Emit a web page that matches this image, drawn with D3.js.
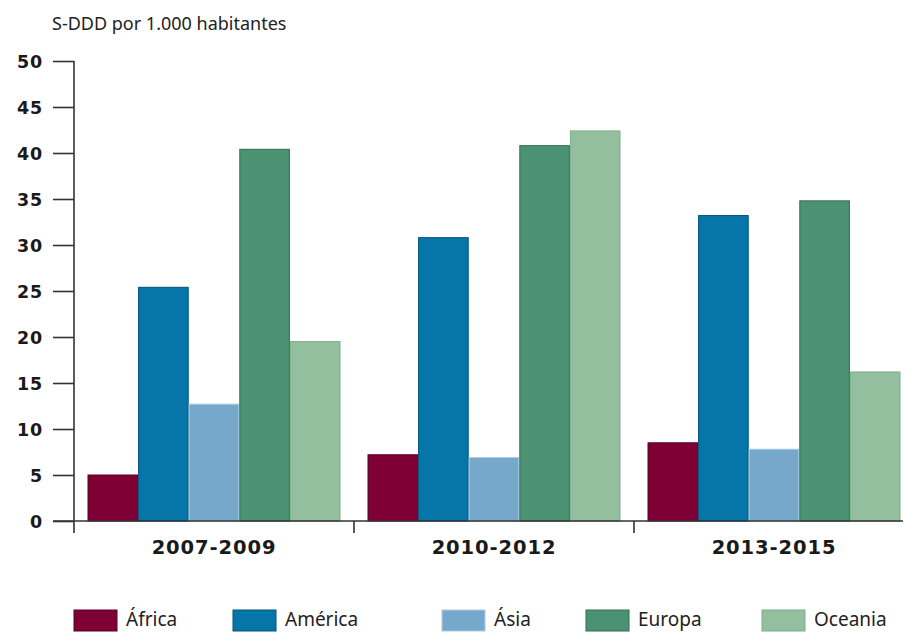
<!DOCTYPE html>
<html>
<head>
<meta charset="utf-8">
<script src="https://cdn.jsdelivr.net/npm/d3@7"></script>
<style>
  html, body { margin: 0; padding: 0; background: #fff; }
  svg { display: block; }
</style>
</head>
<body>
<svg id="chart" width="906" height="633"></svg>
<script>
// Periods shown along the x axis
const periods = ["2007-2009", "2010-2012", "2013-2015"];
// Regions (one bar per region in each period)
const regions = ["África", "América", "Ásia", "Europa", "Oceania"];
// S-DDD per 1,000 inhabitants, one array per region, in period order
const africa  = [5.0, 7.2, 8.5];
const america = [25.4, 30.8, 33.2];
const asia    = [12.7, 6.9, 7.8];
const europa  = [40.4, 40.8, 34.8];
const oceania = [19.5, 42.4, 16.2];
const seriesValues = [africa, america, asia, europa, oceania];
// Y axis ticks
const yTicks = [0, 5, 10, 15, 20, 25, 30, 35, 40, 45, 50];
const yTitle = "S-DDD por 1.000 habitantes";

const fills   = ["#7e0035", "#0675a7", "#76a8cc", "#4a9271", "#94bf9f"];
const strokes = ["#5a0025", "#04527a", "#a9cbe3", "#2f6e50", "#7fae8b"];

const svg = d3.select("#chart");
const axisColor = "#333";

const y = d3.scaleLinear().domain([0, 50]).range([521, 61]);
const x0 = d3.scaleBand().domain(periods).range([74, 914]).padding(0);
const x1 = d3.scaleBand().domain(regions).range([13.5, x0.bandwidth() - 13.5]).padding(0);
const color = d3.scaleOrdinal().domain(regions).range(fills);
const edge = d3.scaleOrdinal().domain(regions).range(strokes);

// Axis title
svg.append("text")
  .attr("x", 52).attr("y", 30)
  .attr("font-family", "'Noto Sans', 'Open Sans', sans-serif")
  .attr("font-size", 18)
  .attr("fill", "#222")
  .text(yTitle);

// Bars
const rows = periods.map((p, i) => ({
  period: p,
  values: regions.map((r, j) => ({ region: r, value: seriesValues[j][i] }))
}));

const groups = svg.append("g").selectAll("g")
  .data(rows).join("g")
  .attr("transform", d => `translate(${x0(d.period)},0)`);

groups.selectAll("rect")
  .data(d => d.values).join("rect")
  .attr("x", d => x1(d.region) + 0.5)
  .attr("width", x1.bandwidth() - 1)
  .attr("y", d => y(d.value))
  .attr("height", d => y(0) - y(d.value))
  .attr("fill", d => color(d.region))
  .attr("stroke", d => edge(d.region))
  .attr("stroke-width", 1);

// Y axis
const yAxis = d3.axisLeft(y).tickValues(yTicks).tickSize(21).tickPadding(10);
const gy = svg.append("g").attr("transform", "translate(74,0)").call(yAxis);
gy.select(".domain").remove();
gy.selectAll(".tick line").attr("stroke", axisColor).attr("stroke-width", 1.6);
gy.selectAll(".tick text")
  .attr("font-family", "'DejaVu Sans', sans-serif")
  .attr("font-weight", "bold")
  .attr("font-size", 17.5)
  .attr("letter-spacing", 0.8)
  .attr("fill", "#1a1a1a")
  .attr("dy", "0.36em");
svg.append("line")
  .attr("x1", 74).attr("x2", 74)
  .attr("y1", y(50)).attr("y2", 533)
  .attr("stroke", axisColor).attr("stroke-width", 1.6);

// X axis baseline
svg.append("line")
  .attr("x1", 53).attr("x2", 903)
  .attr("y1", y(0)).attr("y2", y(0))
  .attr("stroke", axisColor).attr("stroke-width", 1.6);

// Group separators below the baseline
svg.append("g").selectAll("line")
  .data(periods.slice(1)).join("line")
  .attr("x1", d => x0(d)).attr("x2", d => x0(d))
  .attr("y1", y(0)).attr("y2", 533)
  .attr("stroke", axisColor).attr("stroke-width", 1.6);

// Period labels
svg.append("g").selectAll("text")
  .data(periods).join("text")
  .attr("x", d => x0(d) + x0.bandwidth() / 2)
  .attr("y", 554)
  .attr("text-anchor", "middle")
  .attr("font-family", "'DejaVu Sans', sans-serif")
  .attr("font-weight", "bold")
  .attr("font-size", 19.5)
  .attr("letter-spacing", 0.9)
  .attr("fill", "#1a1a1a")
  .text(d => d);

// Legend
const legendX = [74, 233, 442, 586, 762];
const legend = svg.append("g").selectAll("g")
  .data(regions).join("g")
  .attr("transform", (d, i) => `translate(${legendX[i]},610)`);
legend.append("rect")
  .attr("width", 43).attr("height", 21)
  .attr("fill", d => color(d))
  .attr("stroke", d => edge(d))
  .attr("stroke-width", 1);
legend.append("text")
  .attr("x", 52).attr("y", 16)
  .attr("font-family", "'Noto Sans', sans-serif")
  .attr("font-size", 19)
  .attr("fill", "#222")
  .text(d => d);
</script>
</body>
</html>
